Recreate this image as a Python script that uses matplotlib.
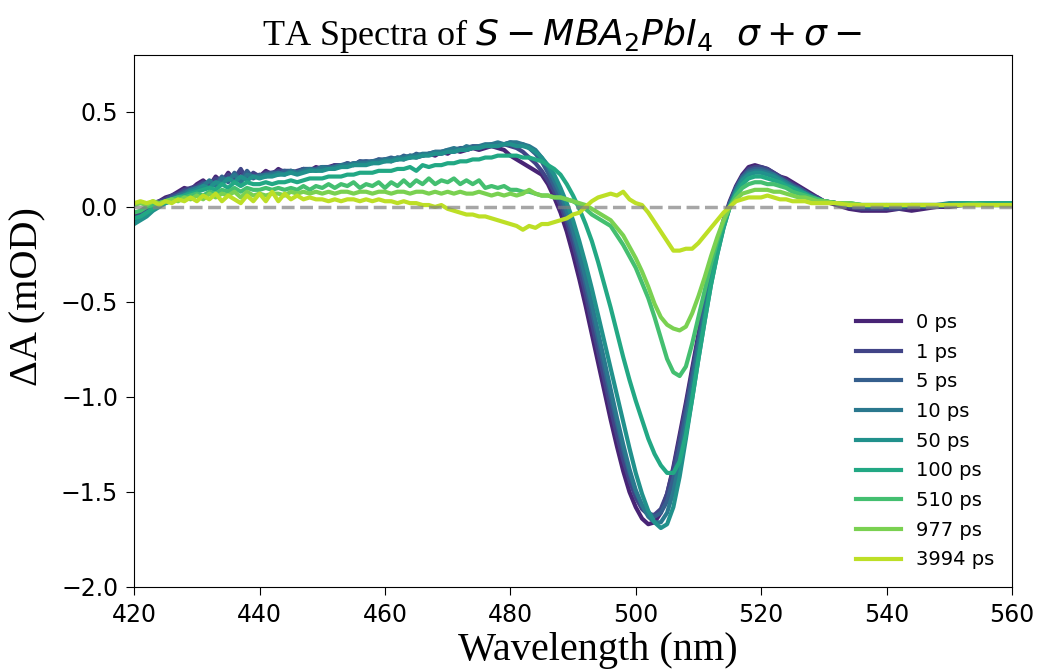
# TA spectra of S-MBA2PbI4 (sigma+ sigma-), delay traces.

import numpy as np
import matplotlib
matplotlib.use("Agg")
import matplotlib.pyplot as plt

# Wavelength grid (nm): 1 nm up to 530, then 2 nm
wavelength = list(range(420, 531)) + list(range(532, 561, 2))

delays = ["0 ps", "1 ps", "5 ps", "10 ps", "50 ps", "100 ps", "510 ps", "977 ps", "3994 ps"]

dA_0ps = [
    -0.05, -0.03, -0.01, 0.02, 0.03, 0.05, 0.06, 0.08, 0.10, 0.09,
    0.12, 0.14, 0.11, 0.16, 0.13, 0.18, 0.14, 0.19, 0.15, 0.17,
    0.16, 0.19, 0.17, 0.20, 0.18, 0.19, 0.18, 0.20, 0.19, 0.21,
    0.20, 0.21, 0.22, 0.21, 0.23, 0.22, 0.24, 0.23, 0.24, 0.24,
    0.25, 0.24, 0.26, 0.25, 0.27, 0.26, 0.27, 0.28, 0.27, 0.29,
    0.28, 0.30, 0.29, 0.30, 0.31, 0.30, 0.31, 0.32, 0.31, 0.30,
    0.27, 0.25, 0.23, 0.21, 0.19, 0.17, 0.12, 0.05, -0.03, -0.13,
    -0.25, -0.38, -0.52, -0.67, -0.82, -0.97, -1.12, -1.26, -1.39, -1.50,
    -1.58, -1.64, -1.67, -1.66, -1.61, -1.51, -1.37, -1.20, -1.03, -0.85,
    -0.67, -0.49, -0.33, -0.19, -0.07, 0.03, 0.11, 0.17, 0.21, 0.22,
    0.21, 0.20, 0.18, 0.16, 0.15, 0.13, 0.11, 0.09, 0.07, 0.05,
    0.03,
    0.01, -0.01, -0.02, -0.02, -0.02, -0.01, -0.02, -0.01, 0.00, 0.00, 0.01, 0.01, 0.01, 0.01, 0.01]

dA_1ps = [
    -0.06, -0.04, -0.02, 0.01, 0.03, 0.04, 0.06, 0.07, 0.09, 0.10,
    0.11, 0.13, 0.12, 0.15, 0.14, 0.17, 0.15, 0.20, 0.14, 0.18,
    0.16, 0.18, 0.18, 0.19, 0.19, 0.18, 0.19, 0.20, 0.19, 0.20,
    0.21, 0.20, 0.22, 0.22, 0.22, 0.23, 0.23, 0.24, 0.23, 0.25,
    0.24, 0.25, 0.25, 0.26, 0.26, 0.27, 0.27, 0.28, 0.28, 0.28,
    0.29, 0.29, 0.30, 0.30, 0.31, 0.31, 0.32, 0.32, 0.32, 0.33,
    0.32, 0.31, 0.29, 0.26, 0.23, 0.19, 0.14, 0.08, 0.01, -0.08,
    -0.19, -0.32, -0.46, -0.61, -0.76, -0.91, -1.06, -1.20, -1.33, -1.44,
    -1.53, -1.59, -1.62, -1.62, -1.59, -1.51, -1.38, -1.22, -1.05, -0.87,
    -0.69, -0.51, -0.35, -0.21, -0.08, 0.02, 0.10, 0.16, 0.20, 0.21,
    0.21, 0.20, 0.18, 0.16, 0.14, 0.12, 0.10, 0.08, 0.06, 0.05,
    0.03,
    0.02, 0.00, -0.01, -0.01, -0.01, -0.01, 0.00, 0.00, 0.00, 0.01, 0.01, 0.01, 0.02, 0.01, 0.01]

dA_5ps = [
    -0.07, -0.05, -0.03, 0.00, 0.02, 0.03, 0.05, 0.06, 0.08, 0.09,
    0.10, 0.12, 0.13, 0.12, 0.16, 0.13, 0.18, 0.14, 0.19, 0.15,
    0.17, 0.16, 0.18, 0.17, 0.19, 0.19, 0.18, 0.20, 0.20, 0.20,
    0.21, 0.21, 0.21, 0.22, 0.23, 0.22, 0.24, 0.24, 0.24, 0.25,
    0.25, 0.26, 0.25, 0.27, 0.26, 0.28, 0.27, 0.28, 0.29, 0.29,
    0.30, 0.30, 0.31, 0.31, 0.32, 0.32, 0.32, 0.33, 0.33, 0.33,
    0.34, 0.33, 0.33, 0.31, 0.28, 0.24, 0.18, 0.11, 0.04, -0.05,
    -0.15, -0.27, -0.41, -0.55, -0.70, -0.85, -1.00, -1.14, -1.28, -1.40,
    -1.50, -1.57, -1.61, -1.63, -1.61, -1.55, -1.43, -1.27, -1.09, -0.90,
    -0.71, -0.53, -0.36, -0.21, -0.08, 0.02, 0.10, 0.16, 0.19, 0.20,
    0.20, 0.19, 0.17, 0.15, 0.13, 0.11, 0.10, 0.08, 0.06, 0.04,
    0.03,
    0.02, 0.01, 0.00, 0.00, 0.00, 0.00, 0.01, 0.00, 0.01, 0.01, 0.01, 0.02, 0.02, 0.02, 0.01]

dA_10ps = [
    -0.08, -0.06, -0.04, -0.01, 0.01, 0.03, 0.04, 0.06, 0.07, 0.09,
    0.10, 0.11, 0.14, 0.11, 0.15, 0.14, 0.17, 0.13, 0.17, 0.16,
    0.16, 0.17, 0.17, 0.18, 0.17, 0.19, 0.18, 0.19, 0.20, 0.19,
    0.21, 0.20, 0.21, 0.22, 0.22, 0.23, 0.23, 0.23, 0.24, 0.24,
    0.25, 0.25, 0.26, 0.26, 0.27, 0.27, 0.28, 0.28, 0.29, 0.29,
    0.30, 0.31, 0.30, 0.32, 0.31, 0.32, 0.33, 0.33, 0.34, 0.33,
    0.34, 0.34, 0.33, 0.32, 0.30, 0.26, 0.21, 0.14, 0.07, -0.02,
    -0.12, -0.24, -0.37, -0.51, -0.66, -0.81, -0.96, -1.11, -1.25, -1.38,
    -1.49, -1.57, -1.63, -1.66, -1.66, -1.61, -1.50, -1.34, -1.15, -0.95,
    -0.75, -0.56, -0.38, -0.23, -0.10, 0.01, 0.09, 0.15, 0.18, 0.19,
    0.19, 0.18, 0.17, 0.15, 0.13, 0.11, 0.09, 0.07, 0.06, 0.04,
    0.03,
    0.02, 0.01, 0.01, 0.00, 0.01, 0.00, 0.01, 0.01, 0.01, 0.01, 0.02, 0.02, 0.02, 0.02, 0.02]

dA_50ps = [
    -0.09, -0.07, -0.05, -0.02, 0.00, 0.02, 0.03, 0.05, 0.06, 0.08,
    0.09, 0.11, 0.10, 0.13, 0.12, 0.15, 0.13, 0.16, 0.14, 0.16,
    0.15, 0.16, 0.16, 0.17, 0.17, 0.18, 0.17, 0.18, 0.19, 0.19,
    0.19, 0.20, 0.20, 0.21, 0.21, 0.22, 0.22, 0.22, 0.23, 0.23,
    0.24, 0.24, 0.25, 0.25, 0.26, 0.26, 0.27, 0.27, 0.28, 0.28,
    0.29, 0.29, 0.30, 0.30, 0.31, 0.31, 0.32, 0.32, 0.32, 0.33,
    0.33, 0.32, 0.32, 0.31, 0.29, 0.26, 0.22, 0.17, 0.10, 0.02,
    -0.07, -0.18, -0.30, -0.43, -0.57, -0.71, -0.85, -0.99, -1.13, -1.27,
    -1.40, -1.51, -1.60, -1.66, -1.69, -1.67, -1.58, -1.42, -1.22, -1.01,
    -0.80, -0.60, -0.41, -0.25, -0.11, 0.00, 0.08, 0.14, 0.17, 0.18,
    0.18, 0.17, 0.16, 0.14, 0.12, 0.10, 0.09, 0.07, 0.05, 0.04,
    0.03,
    0.02, 0.01, 0.01, 0.01, 0.01, 0.01, 0.01, 0.01, 0.01, 0.02, 0.02, 0.02, 0.02, 0.02, 0.02]

dA_100ps = [
    -0.06, -0.05, -0.03, -0.01, 0.01, 0.02, 0.04, 0.05, 0.06, 0.07,
    0.08, 0.09, 0.10, 0.09, 0.12, 0.10, 0.13, 0.11, 0.13, 0.12,
    0.12, 0.13, 0.12, 0.13, 0.13, 0.14, 0.13, 0.14, 0.15, 0.15,
    0.15, 0.16, 0.16, 0.16, 0.17, 0.17, 0.18, 0.18, 0.18, 0.19,
    0.19, 0.19, 0.20, 0.20, 0.21, 0.19, 0.22, 0.21, 0.22, 0.22,
    0.23, 0.23, 0.24, 0.24, 0.25, 0.25, 0.26, 0.26, 0.27, 0.27,
    0.27, 0.27, 0.26, 0.26, 0.25, 0.24, 0.22, 0.20, 0.17, 0.12,
    0.06, -0.01, -0.09, -0.18, -0.29, -0.41, -0.53, -0.66, -0.79, -0.91,
    -1.02, -1.12, -1.22, -1.30, -1.36, -1.40, -1.40, -1.34, -1.20, -1.01,
    -0.80, -0.60, -0.41, -0.25, -0.11, 0.00, 0.07, 0.12, 0.15, 0.16,
    0.16, 0.15, 0.14, 0.13, 0.11, 0.10, 0.08, 0.07, 0.05, 0.04,
    0.03,
    0.02, 0.02, 0.01, 0.01, 0.01, 0.01, 0.01, 0.01, 0.01, 0.01, 0.02, 0.02, 0.02, 0.02, 0.02]

dA_510ps = [
    -0.03, -0.02, 0.00, 0.01, 0.02, 0.03, 0.04, 0.05, 0.05, 0.06,
    0.07, 0.06, 0.08, 0.07, 0.09, 0.08, 0.10, 0.08, 0.10, 0.09,
    0.09, 0.10, 0.09, 0.10, 0.09, 0.10, 0.09, 0.11, 0.09, 0.11,
    0.10, 0.12, 0.10, 0.12, 0.11, 0.13, 0.10, 0.12, 0.11, 0.13,
    0.10, 0.13, 0.11, 0.14, 0.11, 0.14, 0.12, 0.15, 0.12, 0.14,
    0.13, 0.15, 0.12, 0.14, 0.12, 0.14, 0.10, 0.11, 0.10, 0.11,
    0.09, 0.09, 0.08, 0.08, 0.07, 0.06, 0.06, 0.05, 0.05, 0.04,
    0.03, 0.01, -0.01, -0.04, -0.06, -0.08, -0.10, -0.15, -0.20, -0.26,
    -0.32, -0.40, -0.48, -0.58, -0.69, -0.80, -0.87, -0.89, -0.84, -0.72,
    -0.58, -0.44, -0.30, -0.18, -0.08, 0.00, 0.06, 0.10, 0.12, 0.13,
    0.13, 0.12, 0.12, 0.11, 0.10, 0.08, 0.07, 0.06, 0.05, 0.04,
    0.03,
    0.02, 0.02, 0.01, 0.01, 0.01, 0.01, 0.01, 0.01, 0.01, 0.01, 0.01, 0.02, 0.01, 0.01, 0.01]

dA_977ps = [
    0.01, 0.02, 0.01, 0.03, 0.02, 0.03, 0.04, 0.03, 0.05, 0.04,
    0.06, 0.04, 0.07, 0.05, 0.07, 0.06, 0.08, 0.05, 0.08, 0.06,
    0.07, 0.06, 0.07, 0.07, 0.06, 0.08, 0.07, 0.08, 0.07, 0.08,
    0.07, 0.08, 0.07, 0.08, 0.08, 0.07, 0.08, 0.08, 0.07, 0.08,
    0.08, 0.07, 0.08, 0.08, 0.07, 0.08, 0.08, 0.07, 0.08, 0.07,
    0.08, 0.07, 0.08, 0.07, 0.07, 0.08, 0.07, 0.06, 0.07, 0.06,
    0.07, 0.06, 0.07, 0.09, 0.07, 0.06, 0.06, 0.05, 0.05, 0.04,
    0.03, 0.02, 0.01, -0.01, -0.03, -0.05, -0.07, -0.11, -0.15, -0.21,
    -0.27, -0.34, -0.42, -0.51, -0.58, -0.62, -0.64, -0.65, -0.63, -0.56,
    -0.47, -0.37, -0.26, -0.16, -0.07, 0.00, 0.04, 0.07, 0.08, 0.09,
    0.09, 0.09, 0.08, 0.08, 0.07, 0.06, 0.05, 0.05, 0.04, 0.03,
    0.03,
    0.02, 0.02, 0.01, 0.01, 0.01, 0.01, 0.01, 0.01, 0.01, 0.01, 0.01, 0.01, 0.01, 0.01, 0.01]

dA_3994ps = [
    0.02, 0.03, 0.02, 0.03, 0.01, 0.03, 0.02, 0.04, 0.03, 0.05,
    0.03, 0.06, 0.04, 0.07, 0.03, 0.06, 0.04, 0.02, 0.06, 0.03,
    0.07, 0.03, 0.08, 0.03, 0.07, 0.04, 0.06, 0.04, 0.05, 0.04,
    0.04, 0.03, 0.04, 0.03, 0.04, 0.04, 0.03, 0.04, 0.03, 0.04,
    0.03, 0.03, 0.02, 0.03, 0.02, 0.02, 0.01, 0.01, 0.00, 0.01,
    -0.01, -0.02, -0.03, -0.04, -0.04, -0.05, -0.05, -0.06, -0.07, -0.08,
    -0.09, -0.10, -0.12, -0.10, -0.11, -0.09, -0.09, -0.08, -0.07, -0.06,
    -0.04, -0.03, 0.00, 0.03, 0.05, 0.06, 0.07, 0.06, 0.08, 0.04,
    0.02, 0.01, -0.03, -0.08, -0.13, -0.18, -0.23, -0.23, -0.22, -0.22,
    -0.19, -0.15, -0.11, -0.07, -0.03, 0.00, 0.03, 0.04, 0.05, 0.05,
    0.05, 0.06, 0.05, 0.04, 0.04, 0.03, 0.03, 0.03, 0.02, 0.02,
    0.02,
    0.02, 0.01, 0.01, 0.01, 0.01, 0.01, 0.01, 0.01, 0.01, 0.01, 0.01, 0.01, 0.01, 0.01, 0.01]

spectra = [dA_0ps, dA_1ps, dA_5ps, dA_10ps, dA_50ps, dA_100ps, dA_510ps, dA_977ps, dA_3994ps]

# Plot
colors = plt.cm.viridis(np.linspace(0.1, 0.9, len(delays)))

fig = plt.figure(figsize=(10.4, 6.7), dpi=100)
ax = fig.add_axes([0.129, 0.124, 0.844, 0.794])

for spec, label, c in zip(spectra, delays, colors):
    ax.plot(wavelength, spec, color=c, lw=3, label=label)

ax.axhline(0, color="gray", alpha=0.7, ls="--", lw=2.5, zorder=5)

ax.set_xlim(420, 560)
ax.set_ylim(-2.0, 0.8)
ax.set_yticks([-2.0, -1.5, -1.0, -0.5, 0.0, 0.5])
ax.tick_params(labelsize=17, length=5.5, pad=6)

ax.set_xlabel("Wavelength (nm)", family="Liberation Serif", fontsize=29)
ax.set_ylabel("\u0394A (mOD)", family="Liberation Serif", fontsize=29)
ax.xaxis.set_label_coords(0.528, -0.137, transform=ax.transAxes)
ax.xaxis.label.set_va("baseline")
ax.yaxis.set_label_coords(-0.1, 0.545, transform=ax.transAxes)
ax.set_title(r"TA Spectra of $S-MBA_2PbI_4\ \ \sigma+\sigma-$", family="Liberation Serif",
             fontsize=26, x=0.488)

ax.legend(loc="lower right", frameon=False, fontsize=14, handlelength=2.3, labelspacing=0.55)

fig.savefig("out.png", dpi=100)
